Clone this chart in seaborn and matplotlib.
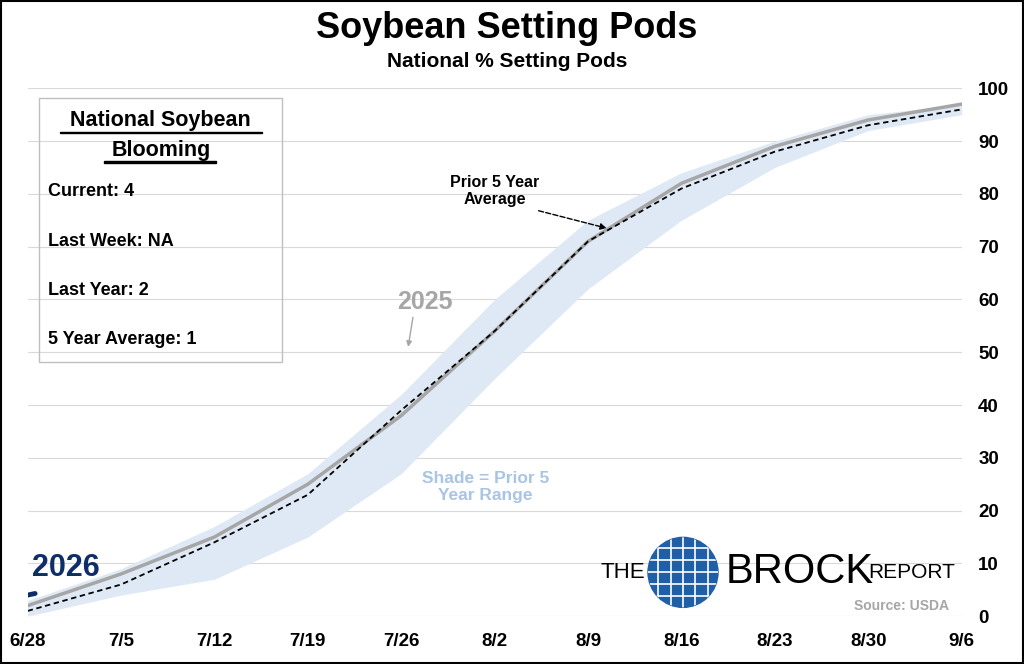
import matplotlib
matplotlib.use("Agg")
import matplotlib.pyplot as plt
import seaborn as sns
import pandas as pd
import numpy as np
from matplotlib.patches import Ellipse, Rectangle

dates = ["6/28","7/5","7/12","7/19","7/26","8/2","8/9","8/16","8/23","8/30","9/6"]
y2025 = [2, 8, 15, 25, 38, 54, 71, 82, 89, 94, 97]
avg5 = [1, 6, 14, 23, 39, 54, 71, 81, 88, 93, 96]
range_low = [0, 4, 7, 15, 27, 45, 62, 75, 85, 92, 95]
range_high = [3, 9, 17, 27, 42, 60, 75, 84, 90, 95, 97]
y2026 = [4]

sns.set_theme(style="white")
plt.rcParams['font.family'] = ['Liberation Sans', 'DejaVu Sans']
plt.rcParams['text.color'] = 'black'
plt.rcParams['xtick.color'] = 'black'
plt.rcParams['ytick.color'] = 'black'

fig = plt.figure(figsize=(10.24, 6.64), dpi=100)
ax = fig.add_axes([0.027, 0.072, 0.912, 0.795])
x = np.arange(len(dates))
df = pd.DataFrame({"x": x, "y2025": y2025, "avg": avg5})

ax.fill_between(x, range_low, range_high, color="#dfe9f5", lw=0)
sns.lineplot(data=df, x="x", y="y2025", ax=ax, color="#a6a6a6", lw=2.5)
sns.lineplot(data=df, x="x", y="avg", ax=ax, color="black", lw=1.3, linestyle=(0, (3, 2)))
ax.plot([0, 0.08], [y2026[0], y2026[0] + 0.3], color="#0f2d69", lw=3.5, solid_capstyle="round")

ax.set_xlim(0, 10)
ax.set_ylim(0, 100)
ax.set_yticks(range(0, 101, 10))
ax.yaxis.tick_right()
ax.set_xticks(x)
ax.set_xticklabels(dates)
ax.tick_params(axis="both", labelsize=13.5, length=0, pad=12, colors="black")
for lab in ax.get_xticklabels() + ax.get_yticklabels():
    lab.set_fontweight("bold")
ax.set_xlabel(""); ax.set_ylabel("")
ax.grid(axis="y", color="#d9d9d9", lw=0.8)
for s in ax.spines.values():
    s.set_visible(False)

fig.text(0.495, 0.957, "Soybean Setting Pods", ha="center", va="center", fontsize=26, fontweight="bold")
fig.text(0.495, 0.907, "National % Setting Pods", ha="center", va="center", fontsize=15, fontweight="bold")

# Info box
fig.patches.append(Rectangle((0.038, 0.455), 0.237, 0.397, transform=fig.transFigure,
                             fill=False, edgecolor="#bfbfbf", lw=1))
fig.text(0.157, 0.818, "National Soybean", ha="center", va="center", fontsize=15.5, fontweight="bold")
fig.text(0.157, 0.774, "Blooming", ha="center", va="center", fontsize=15.5, fontweight="bold")
fig.patches.append(Rectangle((0.059, 0.799), 0.197, 0.0025, transform=fig.transFigure, color="black"))
fig.patches.append(Rectangle((0.102, 0.755), 0.109, 0.0025, transform=fig.transFigure, color="black"))
for i, t in enumerate(["Current: 4", "Last Week: NA", "Last Year: 2", "5 Year Average: 1"]):
    fig.text(0.047, 0.711 - i * 0.074, t, fontsize=13, fontweight="bold", va="center")

ax.annotate("Prior 5 Year\nAverage", xy=(6.2, 73.5), xytext=(5.0, 80.5), ha="center", va="center",
            fontsize=11.5, fontweight="bold",
            arrowprops=dict(arrowstyle="-|>", color="black", linestyle="--", lw=1, mutation_scale=9,
                            shrinkA=0, shrinkB=0, relpos=(0.85, 0.0)))
ax.annotate("2025", xy=(4.07, 50.5), xytext=(4.25, 59.5), ha="center", va="center", fontsize=18,
            fontweight="bold", color="#a6a6a6",
            arrowprops=dict(arrowstyle="-|>", color="#a6a6a6", lw=1, mutation_scale=8, shrinkA=0,
                            relpos=(0.3, 0.0)))
ax.text(4.9, 24.5, "Shade = Prior 5\nYear Range", ha="center", va="center", fontsize=12.5,
        fontweight="bold", color="#a9c4e4")
ax.text(0.05, 9.2, "2026", fontsize=22, fontweight="bold", color="#0f2d69", va="center")

# Logo
cy = 0.138
fig.text(0.586, cy, "THE", fontsize=16, va="center")
cx = 0.667
circ = Ellipse((cx, cy), 70 / 1024, 70 / 664, transform=fig.transFigure, color="#1f5fa8")
fig.patches.append(circ)
for d in np.linspace(-0.024, 0.024, 5):
    fig.lines.append(plt.Line2D([cx + d, cx + d], [cy - 0.06, cy + 0.06],
                                transform=fig.transFigure, color="white", lw=1.2, clip_path=circ))
    fig.lines.append(plt.Line2D([cx - 0.04, cx + 0.04], [cy + d * 1.5, cy + d * 1.5],
                                transform=fig.transFigure, color="white", lw=1.2, clip_path=circ))
fig.text(0.709, cy, "BROCK", fontsize=30, va="center")
fig.text(0.848, cy, "REPORT", fontsize=15, va="center")
fig.text(0.927, 0.087, "Source: USDA", fontsize=10, fontweight="bold", color="#a6a6a6", ha="right", va="center")

fig.patches.append(Rectangle((0.001, 0.001), 0.998, 0.998, transform=fig.transFigure,
                             fill=False, edgecolor="black", lw=1.5))
fig.savefig("out.png", dpi=100)
